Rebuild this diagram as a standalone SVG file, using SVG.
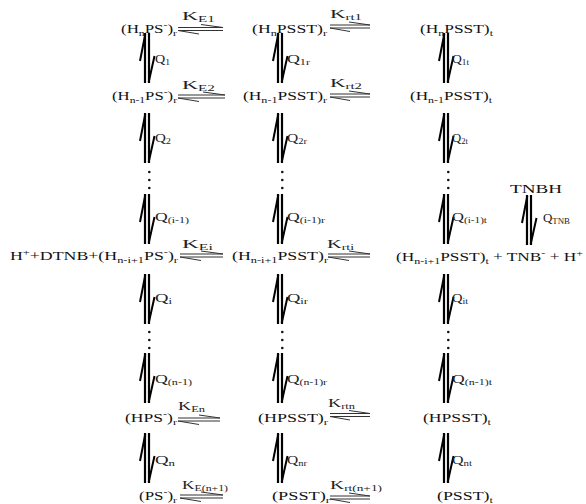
<svg xmlns="http://www.w3.org/2000/svg" width="586" height="504" viewBox="0 0 586 504">
<style>
.t{font-family:"Liberation Serif","Times New Roman",serif;font-size:13px;fill:#111}
.l{font-family:"Liberation Serif","Times New Roman",serif;font-size:12.5px;fill:#222}
.sb{font-size:9px;baseline-shift:-3px}
.sp{font-size:9px;baseline-shift:5px}
.ls{font-size:8.5px;baseline-shift:-1.5px}
.ha{stroke:#333;stroke-width:1;fill:none}
.vl{stroke:#000;stroke-width:2.2;fill:none}
.vb{stroke:#000;stroke-width:2;fill:none}
.d{fill:#111}
</style>
<defs>
<g id="va">
<path class="vl" d="M0,0V50M4,0V50"/>
<path class="vb" d="M0.3,1L-5,28M3.7,49L9.5,23"/>
</g>
<g id="dots"><circle class="d" cx="0" cy="0" r="1.3"/><circle class="d" cx="0" cy="8" r="1.3"/><circle class="d" cx="0" cy="16" r="1.3"/></g>
</defs>

<g id="node-r1c1"><text class="t" x="121" y="33" textLength="56" lengthAdjust="spacingAndGlyphs">(H<tspan class="sb">n</tspan>PS<tspan class="sp">-</tspan>)<tspan class="sb">r</tspan></text></g>
<g id="node-r1c2"><text class="t" x="252" y="33" textLength="75" lengthAdjust="spacingAndGlyphs">(H<tspan class="sb">n</tspan>PSST)<tspan class="sb">r</tspan></text></g>
<g id="node-r1c3"><text class="t" x="420" y="33" textLength="73" lengthAdjust="spacingAndGlyphs">(H<tspan class="sb">n</tspan>PSST)<tspan class="sb">t</tspan></text></g>

<g id="node-r2c1"><text class="t" x="112" y="100" textLength="65" lengthAdjust="spacingAndGlyphs">(H<tspan class="sb">n-1</tspan>PS<tspan class="sp">-</tspan>)<tspan class="sb">r</tspan></text></g>
<g id="node-r2c2"><text class="t" x="243" y="100" textLength="84" lengthAdjust="spacingAndGlyphs">(H<tspan class="sb">n-1</tspan>PSST)<tspan class="sb">r</tspan></text></g>
<g id="node-r2c3"><text class="t" x="410" y="100" textLength="82" lengthAdjust="spacingAndGlyphs">(H<tspan class="sb">n-1</tspan>PSST)<tspan class="sb">t</tspan></text></g>

<g id="node-r3c1"><text class="t" x="10" y="260" textLength="168" lengthAdjust="spacingAndGlyphs">H<tspan class="sp">+</tspan>+DTNB+(H<tspan class="sb">n-i+1</tspan>PS<tspan class="sp">-</tspan>)<tspan class="sb">r</tspan></text></g>
<g id="node-r3c2"><text class="t" x="232" y="260" textLength="96" lengthAdjust="spacingAndGlyphs">(H<tspan class="sb">n-i+1</tspan>PSST)<tspan class="sb">r</tspan></text></g>
<g id="node-r3c3"><text class="t" x="396" y="261" textLength="187" lengthAdjust="spacingAndGlyphs">(H<tspan class="sb">n-i+1</tspan>PSST)<tspan class="sb">t</tspan> + TNB<tspan class="sp">-</tspan> + H<tspan class="sp">+</tspan></text></g>

<g id="node-r4c1"><text class="t" x="125" y="422" textLength="52" lengthAdjust="spacingAndGlyphs">(HPS<tspan class="sp">-</tspan>)<tspan class="sb">r</tspan></text></g>
<g id="node-r4c2"><text class="t" x="258" y="422" textLength="70" lengthAdjust="spacingAndGlyphs">(HPSST)<tspan class="sb">r</tspan></text></g>
<g id="node-r4c3"><text class="t" x="423" y="422" textLength="68" lengthAdjust="spacingAndGlyphs">(HPSST)<tspan class="sb">t</tspan></text></g>

<g id="node-r5c1"><text class="t" x="139" y="500" textLength="38" lengthAdjust="spacingAndGlyphs">(PS<tspan class="sp">-</tspan>)<tspan class="sb">r</tspan></text></g>
<g id="node-r5c2"><text class="t" x="272" y="500" textLength="58" lengthAdjust="spacingAndGlyphs">(PSST)<tspan class="sb">r</tspan></text></g>
<g id="node-r5c3"><text class="t" x="437" y="500" textLength="56" lengthAdjust="spacingAndGlyphs">(PSST)<tspan class="sb">t</tspan></text></g>

<g id="node-TNBH"><text class="t" x="510" y="193" textLength="52" lengthAdjust="spacingAndGlyphs">TNBH</text></g>

<g id="connectors">
<path class="ha" d="M178,27.5H223M223,27.5L201,24.5M178,30.5H223M178,30.5L199,34"/>
<path class="ha" d="M330,25H370M370,25L349,22M330,28H370M330,28L350,31.5"/>
<path class="ha" d="M178,95H225M225,95L203,92M178,98H225M178,98L199,101.5"/>
<path class="ha" d="M330,94H370M370,94L349,91M330,97H370M330,97L350,100.5"/>
<path class="ha" d="M180,254H223M223,254L201,251M180,257H223M180,257L201,260.5"/>
<path class="ha" d="M328,254H370M370,254L349,251M328,257H370M328,257L349,260.5"/>
<path class="ha" d="M178,418H220M220,418L199,415M178,421H220M178,421L199,424.5"/>
<path class="ha" d="M330,413.5H370M370,413.5L349,410.5M330,416.5H370M330,416.5L350,420"/>
<path class="ha" d="M180,495H223M223,495L201,492M180,498H223M180,498L201,501.5"/>
<path class="ha" d="M330,496H370M370,496L349,493M330,499H370M330,499L350,502.5"/>

<use href="#va" x="145" y="33"/><use href="#va" x="278" y="33"/><use href="#va" x="444" y="33"/>
<use href="#va" x="145" y="113"/><use href="#va" x="278" y="113"/><use href="#va" x="444" y="113"/>
<use href="#dots" x="149.3" y="172"/><use href="#dots" x="282.3" y="172"/><use href="#dots" x="448.3" y="172"/>
<use href="#va" x="145" y="194"/><use href="#va" x="278" y="194"/><use href="#va" x="444" y="194"/>
<use href="#va" x="527" y="195"/>
<use href="#va" x="145" y="274"/><use href="#va" x="278" y="274"/><use href="#va" x="444" y="274"/>
<use href="#dots" x="149.3" y="332"/><use href="#dots" x="282.3" y="332"/><use href="#dots" x="448.3" y="332"/>
<use href="#va" x="145" y="353"/><use href="#va" x="278" y="353"/><use href="#va" x="444" y="353"/>
<use href="#va" x="145" y="433"/><use href="#va" x="278" y="433"/><use href="#va" x="444" y="433"/>
</g>

<g id="labels">
<text class="l" x="182" y="20" textLength="33" lengthAdjust="spacingAndGlyphs">K<tspan class="ls">E1</tspan></text>
<text class="l" x="330" y="18" textLength="32" lengthAdjust="spacingAndGlyphs">K<tspan class="ls">rt1</tspan></text>
<text class="l" x="182" y="89" textLength="33" lengthAdjust="spacingAndGlyphs">K<tspan class="ls">E2</tspan></text>
<text class="l" x="330" y="87" textLength="32" lengthAdjust="spacingAndGlyphs">K<tspan class="ls">rt2</tspan></text>
<text class="l" x="182" y="248" textLength="31" lengthAdjust="spacingAndGlyphs">K<tspan class="ls">Ei</tspan></text>
<text class="l" x="327" y="248" textLength="27" lengthAdjust="spacingAndGlyphs">K<tspan class="ls">rti</tspan></text>
<text class="l" x="178" y="410" textLength="27" lengthAdjust="spacingAndGlyphs">K<tspan class="ls">En</tspan></text>
<text class="l" x="328" y="407" textLength="27" lengthAdjust="spacingAndGlyphs">K<tspan class="ls">rtn</tspan></text>
<text class="l" x="182" y="489" textLength="46" lengthAdjust="spacingAndGlyphs">K<tspan class="ls">E(n+1)</tspan></text>
<text class="l" x="330" y="489" textLength="52" lengthAdjust="spacingAndGlyphs">K<tspan class="ls">rt(n+1)</tspan></text>

<text class="l" x="155" y="63" textLength="15" lengthAdjust="spacingAndGlyphs">Q<tspan class="ls">1</tspan></text>
<text class="l" x="155" y="142" textLength="16" lengthAdjust="spacingAndGlyphs">Q<tspan class="ls">2</tspan></text>
<text class="l" x="155" y="221" textLength="34" lengthAdjust="spacingAndGlyphs">Q<tspan class="ls">(i-1)</tspan></text>
<text class="l" x="155" y="302" textLength="17" lengthAdjust="spacingAndGlyphs">Q<tspan class="ls">i</tspan></text>
<text class="l" x="155" y="383" textLength="37" lengthAdjust="spacingAndGlyphs">Q<tspan class="ls">(n-1)</tspan></text>
<text class="l" x="155" y="464" textLength="20" lengthAdjust="spacingAndGlyphs">Q<tspan class="ls">n</tspan></text>

<text class="l" x="287" y="63" textLength="23" lengthAdjust="spacingAndGlyphs">Q<tspan class="ls">1r</tspan></text>
<text class="l" x="287" y="142" textLength="20" lengthAdjust="spacingAndGlyphs">Q<tspan class="ls">2r</tspan></text>
<text class="l" x="287" y="221" textLength="38" lengthAdjust="spacingAndGlyphs">Q<tspan class="ls">(i-1)r</tspan></text>
<text class="l" x="287" y="302" textLength="21" lengthAdjust="spacingAndGlyphs">Q<tspan class="ls">ir</tspan></text>
<text class="l" x="287" y="383" textLength="40" lengthAdjust="spacingAndGlyphs">Q<tspan class="ls">(n-1)r</tspan></text>
<text class="l" x="287" y="464" textLength="20" lengthAdjust="spacingAndGlyphs">Q<tspan class="ls">nr</tspan></text>

<text class="l" x="452" y="63" textLength="17" lengthAdjust="spacingAndGlyphs">Q<tspan class="ls">1t</tspan></text>
<text class="l" x="452" y="142" textLength="16" lengthAdjust="spacingAndGlyphs">Q<tspan class="ls">2t</tspan></text>
<text class="l" x="452" y="221" textLength="35" lengthAdjust="spacingAndGlyphs">Q<tspan class="ls">(i-1)t</tspan></text>
<text class="l" x="452" y="302" textLength="16" lengthAdjust="spacingAndGlyphs">Q<tspan class="ls">it</tspan></text>
<text class="l" x="452" y="383" textLength="40" lengthAdjust="spacingAndGlyphs">Q<tspan class="ls">(n-1)t</tspan></text>
<text class="l" x="452" y="464" textLength="20" lengthAdjust="spacingAndGlyphs">Q<tspan class="ls">nt</tspan></text>

<text class="l" x="543" y="222" textLength="27" lengthAdjust="spacingAndGlyphs">Q<tspan class="ls">TNB</tspan></text>
</g>
</svg>
